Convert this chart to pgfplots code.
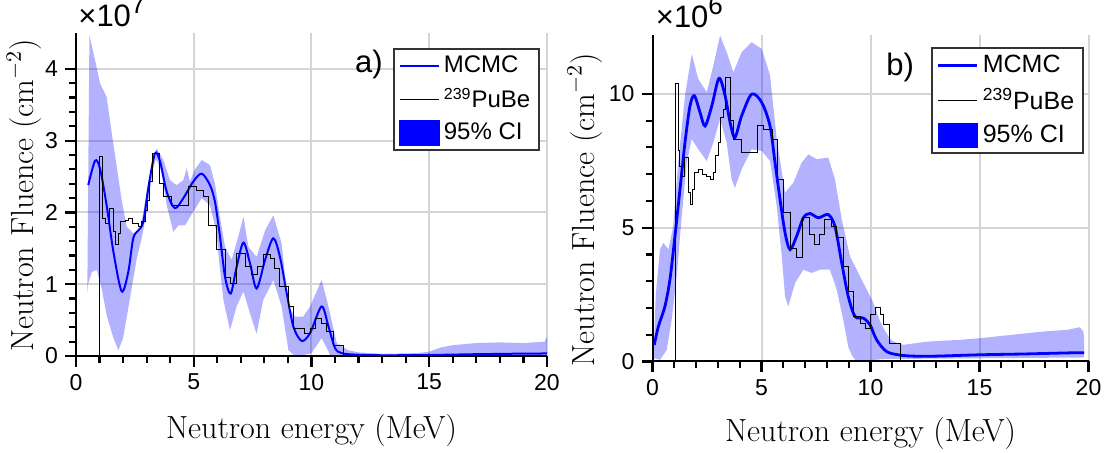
\documentclass[border=0pt]{standalone}
\usepackage{fontspec}
\setsansfont{Liberation Sans}
\usepackage{pgfplots}
\pgfplotsset{compat=1.18}

\pgfplotsset{
  gridonly/.style={
    scale only axis,
    xmin=0, xmax=20, xtick={0,5,...,20},
    xticklabels={}, yticklabels={},
    axis line style={draw=none},
    major tick length=0pt, minor tick num=0,
    xmajorgrids, ymajorgrids,
    major grid style={black!17, line width=1pt},
  },
  panel/.style={
    scale only axis,
    clip mode=individual,
    axis x line*=bottom, axis y line*=left,
    axis line style={-, line width=1pt, black},
    tick align=outside,
    every tick/.style={black, line width=1.1pt},
    major tick length=5.5pt, minor tick length=3.5pt,
    xmin=0, xmax=20, xtick={0,5,...,20}, minor x tick num=4,
    minor y tick num=4,
    scaled y ticks=false,
    /pgf/number format/assume math mode=true,
    ticklabel style={font=\sffamily\fontsize{11.5}{13}\selectfont},
    label style={font=\fontsize{16}{19}\selectfont},
    xlabel={Neutron energy (MeV)},
    ylabel={Neutron Fluence (cm$^{-2}$)},
    legend cell align=left,
    legend image code/.code={\draw[##1] (0pt,0pt) -- (19.5pt,0pt);},
  },
  mcmc/.style={blue, line width=1pt, smooth},
  pube/.style={black, line width=0.5pt, const plot mark left},
  band/.style={fill=blue, fill opacity=0.3, draw=none, forget plot},
}

\begin{document}
\begin{tikzpicture}
\useasboundingbox (0,0) rectangle (552pt,226.5pt);

% ---------------- a) ----------------
\begin{axis}[gridonly,
  at={(38pt,48.5pt)}, anchor=south west,
  width=235.5pt, height=161.5pt,
  ymin=0, ymax=4.5, ytick={0,1,2,3,4},
]
\end{axis}
\begin{axis}[panel,
  at={(38pt,48.5pt)}, anchor=south west,
  width=235.5pt, height=161.5pt,
  ymin=0, ymax=4.5, ytick={0,1,2,3,4},
  ylabel style={at={(axis description cs:-0.11,0.497)}, anchor=center},
  xlabel style={at={(axis description cs:0.5,-0.232)}, anchor=center},
  legend style={at={(0.673,0.954)}, anchor=north west,
    font=\sffamily\fontsize{12}{14}\selectfont,
    draw=black!80, line width=0.9pt, inner xsep=2.5pt, inner ysep=1.5pt,
    row sep=2.2pt},
]
\addplot[band] coordinates {
 (0.48,0.87) (0.52,2.5) (0.57,4.47) (0.81,4.12) (1.02,3.80) (1.30,3.61)
 (1.52,3.10) (1.73,2.64) (1.94,2.17) (2.15,1.80) (2.43,1.71) (2.72,1.75)
 (3.00,2.27) (3.28,2.78) (3.43,2.89) (3.71,2.73) (3.99,2.45) (4.27,2.38)
 (4.56,2.45) (4.70,2.62) (4.84,2.43) (5.05,2.60) (5.34,2.73) (5.69,2.66)
 (5.90,2.40) (6.11,1.94) (6.33,1.52) (6.61,1.34) (6.89,1.66) (7.11,1.94)
 (7.32,1.52) (7.67,1.38) (8.03,1.75) (8.38,1.96) (8.73,1.57) (9.02,0.69)
 (9.30,0.55) (9.65,0.55) (9.94,0.69) (10.43,1.06) (10.72,0.69) (11.07,0.18)
 (11.56,0.08) (12,0.05) (13,0.03) (14.5,0.04) (15,0.06) (15.5,0.12)
 (16,0.15) (17,0.18) (18,0.19) (19,0.18) (19.9,0.20) (20,0.27)
 (20,0.0) (15,0.005) (12,0.005) (11,0.01) (10.8,0.01) (10.43,0.25)
 (10.0,0.04) (9.5,0.0) (9.30,0.0) (9.02,0.08) (8.73,0.69) (8.38,1.06)
 (7.95,0.78) (7.67,0.31) (7.39,0.59) (7.11,0.90) (6.82,0.69) (6.54,0.36)
 (6.26,0.78) (6.10,1.25) (5.95,1.75) (5.69,2.10) (5.34,2.20) (4.98,2.01)
 (4.63,1.82) (4.35,1.82) (4.13,1.73) (3.85,2.10) (3.64,2.57) (3.40,2.75)
 (3.28,2.61) (3.00,2.01) (2.79,1.64) (2.58,1.36) (2.29,0.80) (2.00,0.25)
 (1.80,0.08) (1.59,0.25) (1.30,0.57) (1.09,0.94) (0.88,1.20) (0.67,1.17)
 (0.52,1.01)
} -- cycle;
\addplot[mcmc] coordinates {
 (0.52,2.38) (0.81,2.72) (1.02,2.61) (1.30,2.10) (1.59,1.45) (1.94,0.90)
 (2.22,1.17) (2.43,1.64) (2.65,1.75) (2.86,1.87) (3.07,2.34) (3.35,2.82)
 (3.57,2.71) (3.85,2.29) (4.20,2.06) (4.56,2.20) (4.98,2.43) (5.34,2.54)
 (5.69,2.38) (5.90,2.15) (6.10,1.70) (6.33,1.10) (6.57,0.87) (6.82,1.24)
 (7.11,1.58) (7.39,1.29) (7.67,0.94) (8.03,1.34) (8.38,1.64) (8.66,1.38)
 (8.95,0.87) (9.23,0.41) (9.58,0.21) (9.94,0.32) (10.43,0.69) (10.72,0.41)
 (11.00,0.11) (11.28,0.04) (11.8,0.02) (13,0.01) (15,0.014) (17,0.025)
 (19,0.033) (20,0.035)
};
\addlegendentry{MCMC}
\addplot[pube] coordinates {
 (1.00,0) (1.00,2.78) (1.12,1.92) (1.25,1.85) (1.42,2.05) (1.59,1.73)
 (1.68,1.55) (1.80,1.71) (1.90,1.87) (2.10,1.89) (2.25,1.91) (2.40,1.85)
 (2.65,1.80) (2.79,1.87) (2.93,2.02) (3.03,2.17) (3.14,2.43) (3.24,2.82)
 (3.54,2.40) (3.70,2.22) (4.05,2.10) (4.77,2.36) (5.12,2.30) (5.41,2.22)
 (5.62,1.82) (5.97,1.48) (6.33,1.10) (6.54,1.01) (6.82,1.43) (7.18,1.24)
 (7.46,1.13) (7.70,1.24) (7.95,1.41) (8.24,1.36) (8.45,1.22) (8.66,0.97)
 (9.02,0.69) (9.23,0.38) (9.72,0.31) (9.94,0.38) (10.19,0.52) (10.43,0.45)
 (10.64,0.34) (10.93,0.15) (11.35,0.0) (11.5,0.0)
};
\addlegendentry{\textsuperscript{239}PuBe}
\addlegendimage{legend image code/.code={\fill[blue] (0pt,-6pt) rectangle (19.5pt,6pt);}}
\addlegendentry{95\% CI}
\node[anchor=base west, inner sep=0pt, font=\sffamily\fontsize{15.5}{17}\selectfont]
  at ([shift={(1pt,3pt)}]rel axis cs:0,1) {×10\raisebox{0.45em}{\fontsize{13}{13}\selectfont 7}};
\node[font=\sffamily\fontsize{15.5}{17}\selectfont] at (rel axis cs:0.622,0.901) {a)};
\end{axis}

% ---------------- b) ----------------
\begin{axis}[gridonly,
  at={(326.25pt,45.75pt)}, anchor=south west,
  width=218pt, height=163.25pt,
  ymin=0, ymax=12.2, ytick={0,5,10},
]
\end{axis}
\begin{axis}[panel,
  at={(326.25pt,45.75pt)}, anchor=south west,
  width=218pt, height=163.25pt,
  ymin=0, ymax=12.2, ytick={0,5,10},
  ylabel style={at={(axis description cs:-0.155,0.464)}, anchor=center},
  xlabel style={at={(axis description cs:0.5,-0.22)}, anchor=center},
  legend style={at={(0.639,0.963)}, anchor=north west,
    font=\sffamily\fontsize{12.5}{15}\selectfont,
    draw=black!80, line width=0.9pt, inner xsep=2.5pt, inner ysep=1.5pt,
    row sep=2.5pt},
]
\addplot[band] coordinates {
 (0.04,0.10) (0.15,2.5) (0.34,4.18) (0.50,4.43) (0.73,4.18) (0.95,5.05)
 (1.18,7.43) (1.49,9.93) (1.80,11.49) (2.10,10.55) (2.49,10.06) (2.79,11.05)
 (3.10,12.18) (3.40,11.56) (3.71,10.81) (4.09,11.56) (4.55,11.93) (5.01,11.68)
 (5.39,10.70) (5.70,8.31) (6.08,6.31) (6.46,6.68) (6.84,7.43) (7.15,7.74)
 (7.53,7.56) (8.06,7.62) (8.37,6.81) (8.68,5.31) (9.06,3.93) (9.44,3.31)
 (9.83,2.68) (10.10,2.25) (10.44,1.50) (10.59,1.25) (10.89,0.85) (11.05,0.75)
 (11.50,0.62) (12.58,0.74) (14.1,0.81) (15.02,0.87) (16.4,0.99) (17.93,1.12)
 (19.0,1.18) (19.6,1.28) (19.76,1.12) (19.8,0.90)
 (19.8,0.15) (15,0.12) (12,0.10) (11,0.10) (10.5,0.08) (10,0.05) (9.3,0.05)
 (9.14,0.24) (8.98,0.55) (8.75,1.56) (8.45,2.68) (8.14,3.43) (7.68,3.43)
 (7.30,3.31) (6.92,3.43) (6.54,2.93) (6.23,2.06) (6.08,2.43) (5.93,3.93)
 (5.70,5.80) (5.39,7.50) (5.01,7.87) (4.55,7.93) (4.09,7.18) (3.78,6.49)
 (3.63,6.81) (3.40,8.18) (3.10,9.06) (2.79,8.18) (2.49,7.49) (2.10,7.93)
 (1.80,8.31) (1.57,7.43) (1.34,5.43) (1.11,3.18) (0.88,1.56) (0.65,0.43)
 (0.34,0.06) (0.11,0.12)
} -- cycle;
\addplot[mcmc, line width=1.4pt] coordinates {
 (0.08,0.62) (0.27,1.31) (0.57,2.06) (0.80,3.06) (1.03,4.68) (1.26,6.43)
 (1.49,8.18) (1.72,9.55) (1.92,9.93) (2.18,9.31) (2.41,8.80) (2.72,9.55)
 (3.05,10.58) (3.33,9.93) (3.56,8.93) (3.78,8.37) (4.09,9.18) (4.55,9.99)
 (5.01,9.68) (5.39,8.80) (5.62,7.43) (5.85,6.06) (6.08,4.81) (6.31,4.18)
 (6.61,4.68) (6.92,5.37) (7.22,5.53) (7.61,5.37) (8.06,5.49) (8.37,5.05)
 (8.68,3.68) (8.98,2.43) (9.29,1.68) (9.67,1.62) (9.98,1.37) (10.28,0.81)
 (10.74,0.37) (11.35,0.24) (12,0.20) (13,0.20) (15,0.25) (17,0.28)
 (19,0.32) (19.8,0.33)
};
\addlegendentry{MCMC}
\addplot[pube] coordinates {
 (1.06,0) (1.06,10.37) (1.18,7.87) (1.23,7.30) (1.31,6.93) (1.46,7.62)
 (1.64,6.31) (1.72,5.87) (1.83,6.43) (1.92,7.06) (2.10,7.18) (2.30,7.00)
 (2.49,6.93) (2.65,6.80) (2.79,7.06) (2.90,7.68) (3.02,8.18) (3.14,9.12)
 (3.25,9.40) (3.33,10.62) (3.60,8.99) (3.71,8.31) (4.09,7.81) (4.81,8.80)
 (5.08,8.68) (5.50,8.31) (5.73,6.81) (6.03,5.56) (6.34,4.24) (6.61,3.87)
 (6.89,5.37) (7.19,4.74) (7.45,4.37) (7.68,4.74) (7.91,5.31) (8.22,5.06)
 (8.45,4.62) (8.75,3.56) (8.98,2.62) (9.21,1.68) (9.52,1.43) (9.75,1.24)
 (9.98,1.74) (10.21,2.00) (10.44,1.74) (10.59,1.37) (10.89,0.68) (11.38,0)
 (11.5,0)
};
\addlegendentry{\textsuperscript{239}PuBe}
\addlegendimage{legend image code/.code={\fill[blue] (0pt,-6pt) rectangle (19.5pt,6pt);}}
\addlegendentry{95\% CI}
\node[anchor=base west, inner sep=0pt, font=\sffamily\fontsize{15.5}{17}\selectfont]
  at ([shift={(1.5pt,3.5pt)}]rel axis cs:0,1) {×10\raisebox{0.45em}{\fontsize{13}{13}\selectfont 6}};
\node[font=\sffamily\fontsize{15.5}{17}\selectfont] at (rel axis cs:0.568,0.90) {b)};
\end{axis}
\end{tikzpicture}
\end{document}
